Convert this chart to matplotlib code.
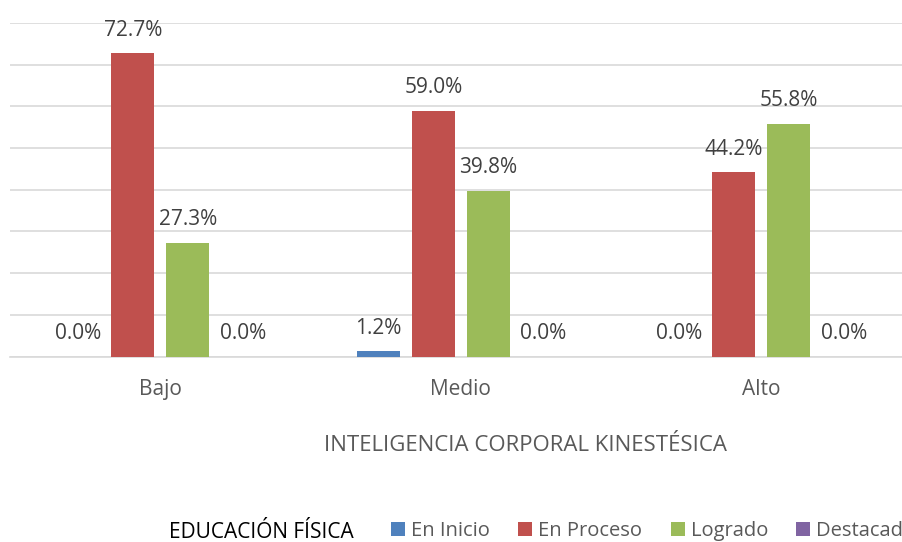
import matplotlib
matplotlib.use("Agg")
import matplotlib.pyplot as plt
import numpy as np

plt.rcParams['font.family'] = ['Open Sans', 'DejaVu Sans']

categories = ["Bajo", "Medio", "Alto"]
series_names = ["En Inicio", "En Proceso", "Logrado", "Destacado"]
en_inicio = [0.0, 1.2, 0.0]
en_proceso = [72.7, 59.0, 44.2]
logrado = [27.3, 39.8, 55.8]
destacado = [0.0, 0.0, 0.0]
colors = ["#4F81BD", "#C0504D", "#9BBB59", "#8064A2"]

fig = plt.figure(figsize=(9.03, 5.42), dpi=100)
ax = fig.add_axes([10 / 903, 185.5 / 542, 901.5 / 903, 333.5 / 542])

x = np.arange(len(categories))
step = 0.183
width = 0.143
handles = []
for i, (name, vals) in enumerate(zip(series_names, [en_inicio, en_proceso, logrado, destacado])):
    pos = x + (i - 1.5) * step
    b = ax.bar(pos, vals, width, color=colors[i], label=name, zorder=3)
    handles.append(b)
    for p, v in zip(pos, vals):
        ax.annotate(f"{v:.1f}%", (p, v), xytext=(0, 9), textcoords="offset points",
                    ha="center", va="bottom", fontsize=15, color="#404040")

ax.set_xlim(-0.5, 2.5)
ax.set_ylim(0, 80)
ax.set_yticks(np.arange(0, 81, 10))
ax.yaxis.grid(True, color="#D9D9D9", linewidth=1.2)
ax.set_yticklabels([])
ax.tick_params(axis="y", length=0)
ax.set_xticks(x)
ax.set_xticklabels(categories, fontsize=15, color="#595959")
ax.tick_params(axis="x", length=0, pad=16)
for s in ["top", "right", "left"]:
    ax.spines[s].set_visible(False)
ax.spines["bottom"].set_color("#D9D9D9")
ax.spines["bottom"].set_linewidth(1.2)

fig.text(525.5 / 903, 1 - 445.5 / 542, "INTELIGENCIA CORPORAL KINESTÉSICA", ha="center", va="center",
         fontsize=16, color="#595959")
fig.text(261 / 903, 1 - 532 / 542, "EDUCACIÓN FÍSICA", ha="center", va="center",
         fontsize=15, color="black")
fig.legend(handles=handles, labels=series_names, loc="center left",
           bbox_to_anchor=(391 / 903, 1 - 531 / 542), ncol=4, frameon=False,
           fontsize=14.5, labelcolor="#595959", handlelength=0.7, handleheight=0.7,
           handletextpad=0.3, columnspacing=1.4, borderpad=0, borderaxespad=0)

fig.savefig("out.png", dpi=100)
